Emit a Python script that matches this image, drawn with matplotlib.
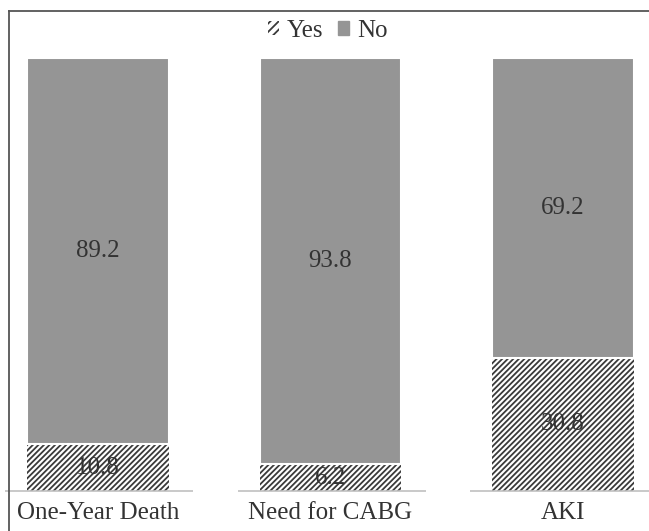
import matplotlib.pyplot as plt
from matplotlib.lines import Line2D
from matplotlib.patches import Patch

categories = ["One-Year Death", "Need for CABG", "AKI"]
yes_vals = [10.8, 6.2, 30.8]
no_vals = [89.2, 93.8, 69.2]

plt.rcParams["font.family"] = ["Liberation Serif", "DejaVu Serif"]
plt.rcParams["hatch.linewidth"] = 1.3

GRAY = "#959595"
DARK = "#3a3a3a"
TXT = "#333333"

fig = plt.figure(figsize=(6.49, 5.31), dpi=100)
fig.patch.set_facecolor("white")
ax = fig.add_axes([0, 40 / 531, 1, 433 / 531])

x = list(range(len(categories)))
w = 0.61

# Yes segment (hatched)
ax.bar(x, yes_vals, width=w, color="white", edgecolor=DARK, hatch="/" * 6,
       linewidth=0, label="Yes")
# No segment on top, white edge gives the small gap
ax.bar(x, no_vals, width=w, bottom=yes_vals, color=GRAY, edgecolor="white",
       linewidth=1.5, label="No")

for i in x:
    ax.text(i, yes_vals[i] / 2, f"{yes_vals[i]}", ha="center", va="center",
            fontsize=18, color=TXT)
    ax.text(i, yes_vals[i] + no_vals[i] / 2, f"{no_vals[i]}", ha="center",
            va="center", fontsize=18, color=TXT)
    # baseline segment under each category
    ax.plot([i - 0.4, i + 0.41], [0, 0], color="#c0c0c0", lw=1.2,
            solid_capstyle="butt", clip_on=False)

ax.set_xlim(-98 / 232.5, 551 / 232.5)
ax.set_ylim(0, 100)
ax.set_xticks(x)
ax.set_xticklabels(categories, fontsize=18, color=TXT)
ax.tick_params(axis="x", length=0, pad=8)
ax.set_yticks([])
for s in ax.spines.values():
    s.set_visible(False)
ax.patch.set_alpha(0)

handles = [Patch(facecolor="white", edgecolor=DARK, hatch="////", linewidth=0),
           Patch(facecolor=GRAY, edgecolor=GRAY)]
fig.legend(handles, ["Yes", "No"], loc="center", ncol=2,
           bbox_to_anchor=(0.505, 1 - 31 / 531), frameon=False, fontsize=18,
           handlelength=0.45, handleheight=0.45, handletextpad=0.3,
           columnspacing=0.6, labelcolor=TXT)

# outer chart border (left and top visible)
fig.add_artist(Line2D([8.5 / 649, 8.5 / 649], [0, 1 - 10.5 / 531],
                      transform=fig.transFigure, color="#555555", lw=1.3))
fig.add_artist(Line2D([8.5 / 649, 1], [1 - 10.5 / 531, 1 - 10.5 / 531],
                      transform=fig.transFigure, color="#555555", lw=1.3))

fig.savefig("out.png", dpi=100)
